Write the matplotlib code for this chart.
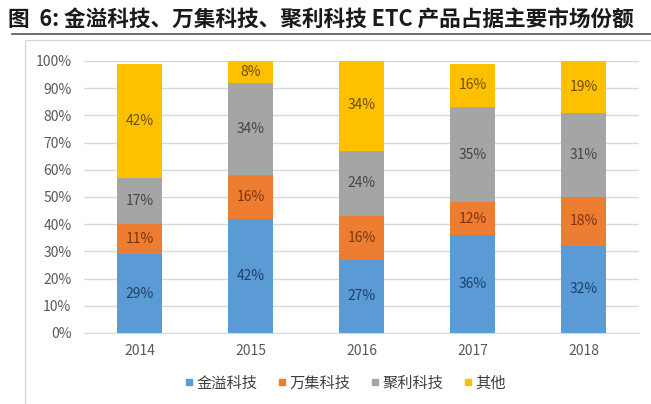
import numpy as np
import matplotlib
matplotlib.use("Agg")
import matplotlib.pyplot as plt
from matplotlib.lines import Line2D
from matplotlib.patches import Rectangle

plt.rcParams['font.family'] = ['Noto Sans CJK SC', 'DejaVu Sans']

# 数据
years = ['2014', '2015', '2016', '2017', '2018']
series_names = ['金溢科技', '万集科技', '聚利科技', '其他']
jinyi = [29, 42, 27, 36, 32]
wanji = [11, 16, 16, 12, 18]
juli = [17, 34, 24, 35, 31]
other = [42, 8, 34, 16, 19]
y_ticks = [0, 10, 20, 30, 40, 50, 60, 70, 80, 90, 100]

colors = ['#5B9BD5', '#ED7D31', '#A5A5A5', '#FFC000']
label_colors = ['#1F3F6B', '#7A3510', '#454545', '#6B5000']

fig = plt.figure(figsize=(6.51, 4.04), dpi=100)
W, H = 651, 404

# 标题和下划线
fig.text(8 / W, 1 - 20 / H, '图  6: 金溢科技、万集科技、聚利科技 ETC 产品占据主要市场份额',
         fontsize=15.6, fontweight='bold', color='#1a1a1a', va='center', ha='left')
fig.add_artist(Line2D([12 / W, 1], [1 - 34 / H, 1 - 34 / H], color='#555555', lw=1.2))
# 图表外框
fig.add_artist(Rectangle((25 / W, -0.05), 1.0, 1 - 40 / H + 0.05, fill=False,
                         edgecolor='#d9d9d9', lw=1.0, transform=fig.transFigure))

ax = fig.add_axes([84 / W, 1 - 333 / H, (639 - 84) / W, (333 - 61) / H])

x = np.arange(len(years))
bottom = np.zeros(len(years))
for vals, name, c, lc in zip([jinyi, wanji, juli, other], series_names, colors, label_colors):
    vals = np.array(vals, dtype=float)
    ax.bar(x, vals / 100, 0.4, bottom=bottom / 100, color=c, label=name, zorder=3)
    for xi, b, v in zip(x, bottom, vals):
        ax.text(xi, (b + v / 2) / 100, f'{int(v)}%', ha='center', va='center',
                fontsize=10, color=lc, zorder=4)
    bottom += vals

ax.set_xlim(-0.5, len(years) - 0.5)
ax.set_ylim(0, 1)
ax.set_yticks([t / 100 for t in y_ticks])
ax.set_yticklabels([f'{t}%' for t in y_ticks])
ax.set_xticks(x)
ax.set_xticklabels(years)
ax.tick_params(axis='both', length=0, labelsize=10, colors='#595959')
ax.tick_params(axis='y', pad=9)
ax.tick_params(axis='x', pad=8)
ax.grid(axis='y', color='#d9d9d9', lw=1, zorder=0)
for s in ['top', 'right', 'left']:
    ax.spines[s].set_visible(False)
ax.spines['bottom'].set_color('#d9d9d9')

handles = [Line2D([], [], marker='s', ls='', color=c, markersize=5) for c in colors]
fig.legend(handles, series_names, loc='center', bbox_to_anchor=(345 / W, 1 - 383 / H),
           ncol=4, frameon=False, fontsize=11, handlelength=0.6, handletextpad=0.2,
           columnspacing=1.3, labelcolor='#404040')

fig.savefig('out.png', dpi=100)
